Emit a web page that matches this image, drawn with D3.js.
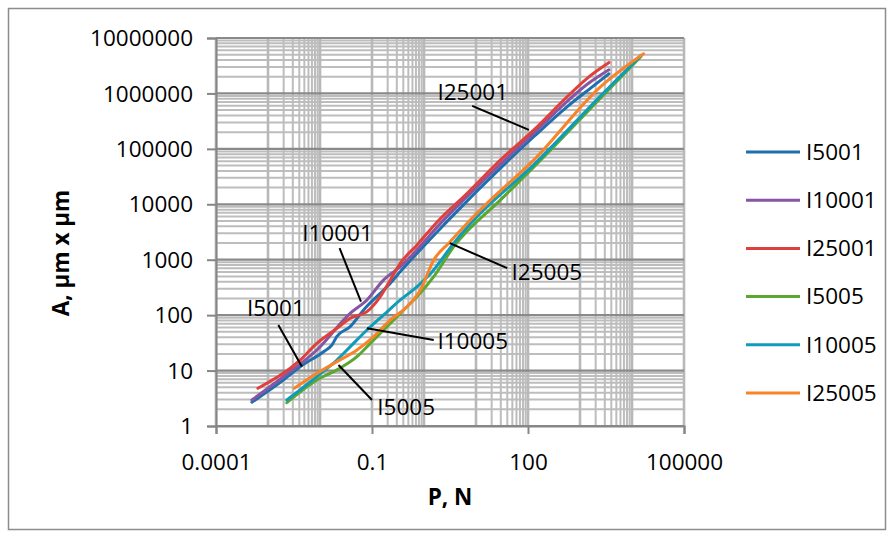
<!DOCTYPE html>
<html>
<head>
<meta charset="utf-8">
<script src="https://cdn.jsdelivr.net/npm/d3@7/dist/d3.min.js"></script>
<style>
  html, body { margin: 0; padding: 0; background: #fff; }
  svg { display: block; font-family: "Open Sans", "Liberation Sans", sans-serif; }
</style>
</head>
<body>
<svg id="chart" width="894" height="537"></svg>
<script>
// Load P (N) versus indentation area A (µm x µm), log-log
const seriesNames = ["I5001", "I10001", "I25001", "I5005", "I10005", "I25005"];
const seriesColors = ["#1f6faf", "#8656a2", "#e0403b", "#5aa832", "#0f9bba", "#f8842a"];

const p5001 = [4.9e-4, 2.0e-3, 4.2e-3, 0.0117, 0.017, 0.021, 0.038, 0.069, 0.225, 0.351, 2.4, 130, 570, 1600, 3600];
const a5001 = [2.68, 6.8, 11.8, 21.9, 29, 41, 62, 124, 377, 610, 4250, 1.67e5, 5.8e5, 1.25e6, 2.26e6];

const p10001 = [4.9e-4, 2.0e-3, 8.7e-3, 0.038, 0.080, 0.1675, 0.351, 2.4, 130, 1600, 3600];
const a10001 = [2.95, 7.8, 23.5, 108, 188, 432, 751, 5230, 1.95e5, 1.62e6, 2.67e6];

const p25001 = [6.4e-4, 4.15e-3, 8.7e-3, 0.0212, 0.0382, 0.080, 0.1445, 0.2255, 0.351, 0.736, 1.79, 6.77, 29.6, 130, 572, 1390, 3620];
const a25001 = [4.8, 15.5, 31, 58, 88, 116, 216, 432, 865, 1850, 4810, 15850, 63300, 2.2e5, 8.8e5, 1.89e6, 3.6e6];

const p5005 = [2.3e-3, 8.7e-3, 0.0212, 0.0514, 0.0927, 0.1675, 0.406, 0.736, 1.54, 3.73, 29.6, 130, 2500, 14800];
const a5005 = [2.63, 6.8, 10.3, 17.8, 31, 54, 124, 216, 496, 1720, 12000, 47000, 8.3e5, 4.64e6];

const p10005 = [2.3e-3, 8.7e-3, 0.0212, 0.0382, 0.080, 0.1675, 0.351, 0.736, 1.54, 3.73, 10.5, 130, 2500, 14800];
const a10005 = [2.95, 7.8, 15.5, 27, 54, 101, 188, 327, 654, 1990, 6000, 52000, 9.06e5, 4.8e6];

const p25005 = [3.2e-3, 8.7e-3, 0.0212, 0.0514, 0.1074, 0.2255, 0.472, 0.853, 1.54, 2.99, 6.77, 16.4, 130, 2500, 16700];
const a25005 = [4.8, 8.9, 14.5, 23.5, 41, 82, 142, 285, 991, 1990, 4560, 10470, 63300, 1.33e6, 5.2e6];

const xTickValues = [1e-4, 0.1, 100, 1e5];
const xTickLabels = ["0.0001", "0.1", "100", "100000"];
const yTickValues = [1, 10, 100, 1000, 10000, 100000, 1000000, 10000000];
const yTickLabels = ["1", "10", "100", "1000", "10000", "100000", "1000000", "10000000"];

// Series-name callouts: text anchor and leader line, in data units
const calloutNames = ["I25001", "I10001", "I5001", "I10005", "I5005", "I25005"];
const calloutTextP = [1.81, 4.54e-3, 3.95e-4, 1.81, 0.1264, 48.3];
const calloutTextA = [1.05e6, 3048, 135, 34.2, 2.16, 603];
const leaderFromP = [8.45, 0.0238, 1.58e-3, 1.54, 0.1, 39.9];
const leaderFromA = [5.97e5, 1614, 66.5, 35.7, 2.95, 703];
const leaderToP = [104, 0.0614, 4.48e-3, 0.080, 0.0227, 3.13];
const leaderToA = [2.2e5, 175, 11.8, 58, 12.6, 1986];

const seriesP = [p5001, p10001, p25001, p5005, p10005, p25005];
const seriesA = [a5001, a10001, a25001, a5005, a10005, a25005];
const series = seriesNames.map((name, i) => ({
  name, color: seriesColors[i],
  points: seriesP[i].map((p, j) => ({ p, a: seriesA[i][j] }))
}));

const svg = d3.select("#chart");
const W = 894, H = 537;
const plot = { left: 216, right: 684, top: 38, bottom: 426 };

// chart frame
svg.append("rect").attr("x", 8.5).attr("y", 8.5).attr("width", W - 17).attr("height", H - 16)
  .attr("fill", "#fff").attr("stroke", "#8c8c8c").attr("stroke-width", 1.5);

const x = d3.scaleLog().domain([1e-4, 1e5]).range([plot.left, plot.right]);
const y = d3.scaleLog().domain([1, 1e7]).range([plot.bottom, plot.top]);

const grid = svg.append("g");

// horizontal minor gridlines (2..9 in every decade)
const yMinor = [];
for (let d = 0; d < 7; d++) for (let k = 2; k <= 9; k++) yMinor.push(k * Math.pow(10, d));
grid.selectAll("line.ymin").data(yMinor).join("line")
  .attr("x1", plot.left).attr("x2", plot.right)
  .attr("y1", d => y(d)).attr("y2", d => y(d))
  .attr("stroke", "#bdbdbd").attr("stroke-width", 2);

// vertical gridlines: every decade, with 2..9 subdivisions in alternate decades
const xDecades = d3.range(-4, 6).map(e => Math.pow(10, e));
const xMinor = [];
[-3, -1, 1, 3].forEach(e => { for (let k = 2; k <= 9; k++) xMinor.push(k * Math.pow(10, e)); });
grid.selectAll("line.xmin").data(xMinor).join("line")
  .attr("x1", d => x(d)).attr("x2", d => x(d))
  .attr("y1", plot.top).attr("y2", plot.bottom)
  .attr("stroke", "#bdbdbd").attr("stroke-width", 2);
grid.selectAll("line.xmaj").data(xDecades).join("line")
  .attr("x1", d => x(d)).attr("x2", d => x(d))
  .attr("y1", plot.top).attr("y2", plot.bottom)
  .attr("stroke", "#b8b8b8").attr("stroke-width", 2.6);

// horizontal major gridlines
grid.selectAll("line.ymaj").data(yTickValues).join("line")
  .attr("x1", plot.left).attr("x2", plot.right)
  .attr("y1", d => y(d)).attr("y2", d => y(d))
  .attr("stroke", "#8a8a8a").attr("stroke-width", 2.2);

// axes
const axisColor = "#868686";
const yAxis = svg.append("g").attr("transform", `translate(${plot.left},0)`)
  .call(d3.axisLeft(y).tickValues(yTickValues).tickFormat((d, i) => yTickLabels[i]).tickSize(9).tickPadding(14));
const xAxis = svg.append("g").attr("transform", `translate(0,${plot.bottom})`)
  .call(d3.axisBottom(x).tickValues(xTickValues).tickFormat((d, i) => xTickLabels[i]).tickSize(8).tickPadding(20));
[xAxis, yAxis].forEach(g => {
  g.select(".domain").attr("stroke", axisColor).attr("stroke-width", 2);
  g.selectAll(".tick line").attr("stroke", axisColor).attr("stroke-width", 2);
  g.selectAll("text").attr("font-family", "'Open Sans', sans-serif").attr("font-size", 22.5).attr("fill", "#000");
});
yAxis.selectAll("text").attr("dy", "0.34em");
xAxis.selectAll("text").attr("dy", "0.72em");

// series lines
const line = d3.line().x(d => x(d.p)).y(d => y(d.a)).curve(d3.curveMonotoneX);
svg.append("g").selectAll("path").data(series).join("path")
  .attr("d", d => line(d.points))
  .attr("fill", "none").attr("stroke", d => d.color)
  .attr("stroke-width", 3).attr("stroke-linejoin", "round").attr("stroke-linecap", "round");

// callouts
const co = svg.append("g");
calloutNames.forEach((name, i) => {
  co.append("line")
    .attr("x1", x(leaderFromP[i])).attr("y1", y(leaderFromA[i]))
    .attr("x2", x(leaderToP[i])).attr("y2", y(leaderToA[i]))
    .attr("stroke", "#000").attr("stroke-width", 2);
  co.append("text")
    .attr("x", x(calloutTextP[i])).attr("y", y(calloutTextA[i]))
    .attr("dy", "0.35em").attr("font-size", 22.5).attr("fill", "#000")
    .text(name);
});

// axis titles
svg.append("text").attr("x", 450).attr("y", 505).attr("text-anchor", "middle")
  .attr("font-weight", "bold").attr("font-size", 22.5).text("P, N");
svg.append("text").attr("transform", "translate(69,253) rotate(-90)").attr("text-anchor", "middle")
  .attr("font-weight", "bold").attr("font-size", 22.5).text("A, µm x µm");

// legend
const legend = svg.append("g").attr("transform", "translate(746,152)");
const rows = legend.selectAll("g").data(series).join("g")
  .attr("transform", (d, i) => `translate(0,${i * 48.2})`);
rows.append("line").attr("x1", 0).attr("x2", 54).attr("y1", 0).attr("y2", 0)
  .attr("stroke", d => d.color).attr("stroke-width", 3);
rows.append("text").attr("x", 60).attr("dy", "0.35em").attr("font-size", 22.5).text(d => d.name);
</script>
</body>
</html>
